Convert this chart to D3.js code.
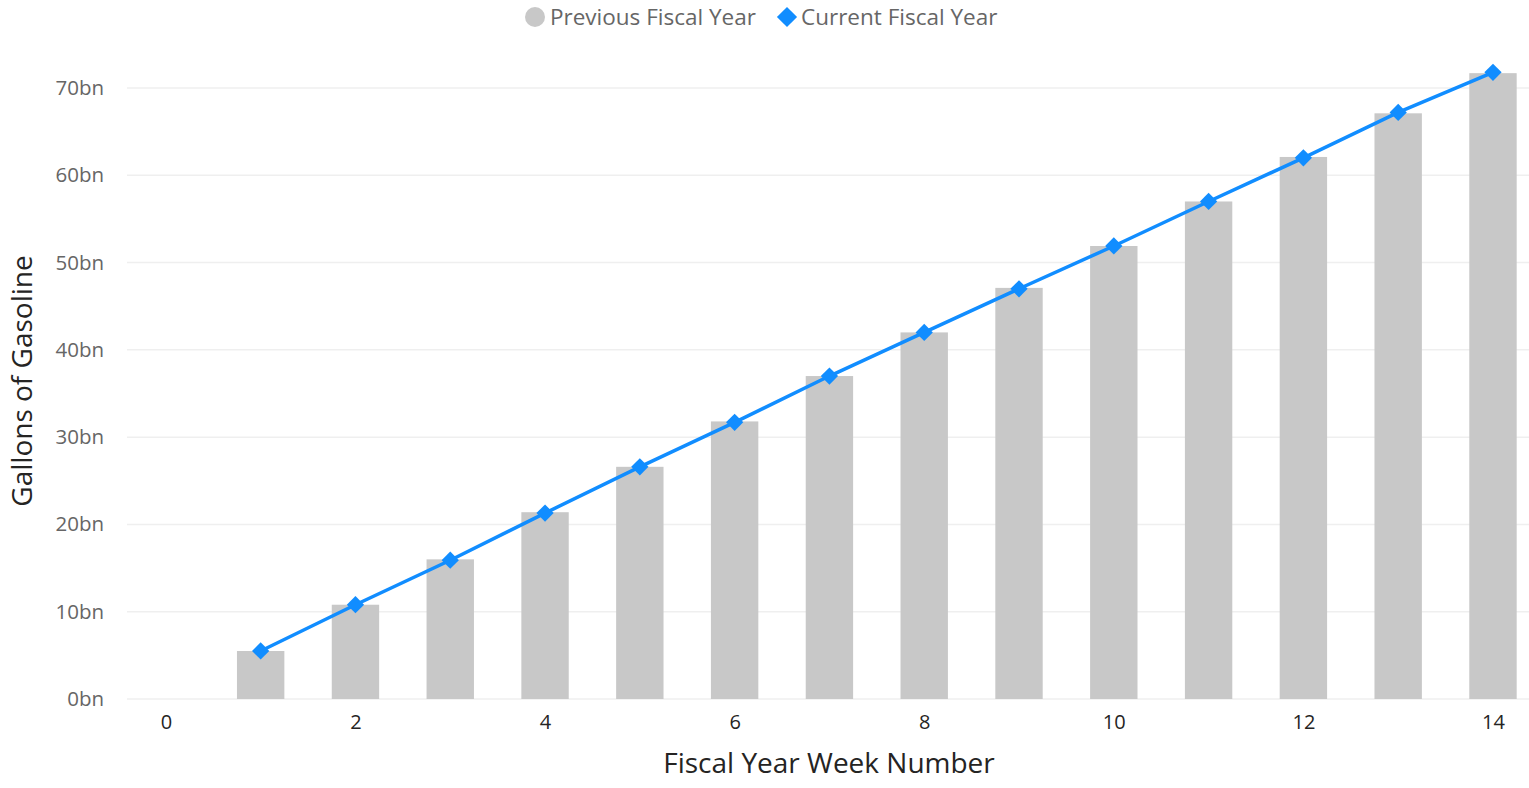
<!DOCTYPE html>
<html>
<head>
<meta charset="utf-8">
<script src="https://cdn.jsdelivr.net/npm/d3@7"></script>
<style>
  body { margin: 0; background: #fff; }
  text { font-family: "Open Sans", "Noto Sans", sans-serif; }
</style>
</head>
<body>
<svg id="chart" width="1529" height="788"></svg>
<script>
var weeks = [1, 2, 3, 4, 5, 6, 7, 8, 9, 10, 11, 12, 13, 14];
var previousYear = [5.5, 10.8, 16.0, 21.4, 26.6, 31.8, 37.0, 42.0, 47.1, 51.9, 57.0, 62.1, 67.1, 71.7];
var currentYear = [5.5, 10.8, 15.9, 21.3, 26.6, 31.7, 37.0, 42.0, 47.0, 51.9, 57.0, 62.0, 67.2, 71.8];
var xTicks = [0, 2, 4, 6, 8, 10, 12, 14];
var yTicks = [0, 10, 20, 30, 40, 50, 60, 70];

var svg = d3.select("#chart");
var margin = { left: 127, right: 0, top: 40, bottom: 89 };
var width = 1529, height = 788;

var x = d3.scaleLinear().domain([-0.41, 14.38]).range([margin.left, width - margin.right]);
var y = d3.scaleLinear().domain([0, 70]).range([699, 88]);

// gridlines
svg.append("g")
  .selectAll("line")
  .data(yTicks)
  .join("line")
  .attr("x1", margin.left)
  .attr("x2", width)
  .attr("y1", d => y(d))
  .attr("y2", d => y(d))
  .attr("stroke", "#efefef")
  .attr("stroke-width", 1.5);

// y tick labels
var yAxis = d3.axisLeft(y).tickValues(yTicks).tickFormat(d => d + "bn").tickSize(0).tickPadding(0);
var yg = svg.append("g").attr("transform", "translate(104,0)").call(yAxis);
yg.select(".domain").remove();
yg.selectAll("text").attr("fill", "#666").style("font-size", "20.5px").style("font-family", "'Open Sans', sans-serif");

// x tick labels
var xAxis = d3.axisBottom(x).tickValues(xTicks).tickFormat(d3.format("d")).tickSize(0).tickPadding(0);
var xg = svg.append("g").attr("transform", "translate(0,715)").call(xAxis);
xg.select(".domain").remove();
xg.selectAll("text").attr("fill", "#252423").style("font-size", "20px").style("font-family", "'Open Sans', sans-serif");

// bars
var barW = x(0.5) - x(0);
svg.append("g")
  .selectAll("rect")
  .data(weeks)
  .join("rect")
  .attr("x", (d) => x(d) - barW / 2)
  .attr("y", (d, i) => y(previousYear[i]))
  .attr("width", barW)
  .attr("height", (d, i) => y(0) - y(previousYear[i]))
  .attr("fill", "#c8c8c8");

// line
var line = d3.line().x((d, i) => x(weeks[i])).y(d => y(d));
svg.append("path")
  .datum(currentYear)
  .attr("d", line)
  .attr("fill", "none")
  .attr("stroke", "#118dff")
  .attr("stroke-width", 3.5);

var diamond = d3.symbol().type(d3.symbolDiamond2).size(190);
svg.append("g")
  .selectAll("path")
  .data(currentYear)
  .join("path")
  .attr("d", diamond)
  .attr("transform", (d, i) => `translate(${x(weeks[i])},${y(d)})`)
  .attr("fill", "#118dff");

// axis titles
svg.append("text")
  .attr("transform", "translate(32,381) rotate(-90)")
  .attr("text-anchor", "middle")
  .attr("fill", "#252423")
  .style("font-size", "28px")
  .text("Gallons of Gasoline");

svg.append("text")
  .attr("x", 829)
  .attr("y", 773)
  .attr("text-anchor", "middle")
  .attr("fill", "#252423")
  .style("font-size", "28px")
  .text("Fiscal Year Week Number");

// legend
var legend = svg.append("g");
legend.append("circle").attr("cx", 535).attr("cy", 17).attr("r", 10).attr("fill", "#c8c8c8");
legend.append("text").attr("x", 550).attr("y", 25).attr("fill", "#666").style("font-size", "22.5px").text("Previous Fiscal Year");
legend.append("path")
  .attr("d", d3.symbol().type(d3.symbolDiamond2).size(260))
  .attr("transform", "translate(787,17)")
  .attr("fill", "#118dff");
legend.append("text").attr("x", 801).attr("y", 25).attr("fill", "#666").style("font-size", "22.5px").text("Current Fiscal Year");
</script>
</body>
</html>
